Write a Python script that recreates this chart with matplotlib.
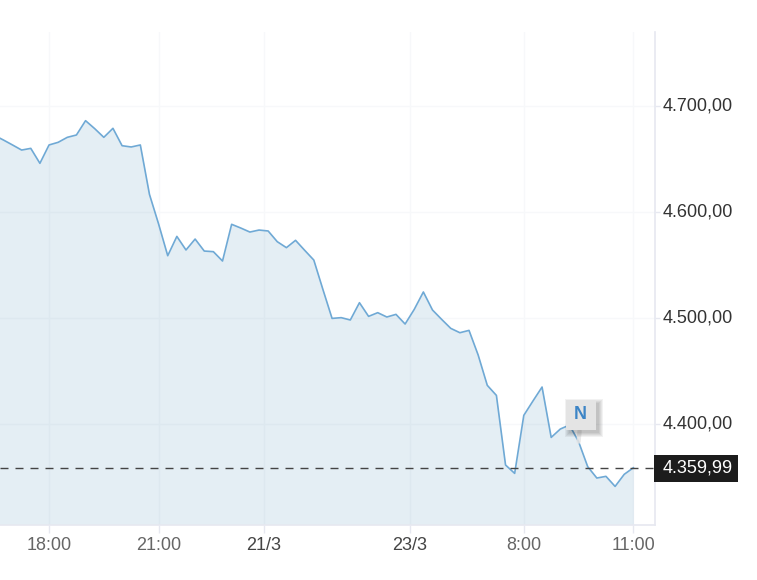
import matplotlib
matplotlib.use("Agg")
import matplotlib.pyplot as plt
import matplotlib.transforms as mtrans
from matplotlib.patches import Rectangle
from matplotlib.transforms import blended_transform_factory

WIDTH, HEIGHT = 757, 580

prices = [
    4671.9, 4667.5, 4662.8, 4658.0, 4659.6, 4645.5, 4662.8, 4665.3, 4670.0, 4672.2,
    4685.7, 4678.2, 4670.0, 4678.5, 4662.1, 4660.9, 4662.8, 4616.2, 4588.3, 4558.4,
    4576.6, 4563.8, 4574.1, 4562.8, 4562.2, 4553.4, 4588.0, 4584.5, 4580.7, 4582.6,
    4581.7, 4571.6, 4566.0, 4572.9, 4563.5, 4554.3, 4526.5, 4499.3, 4500.0, 4497.8,
    4514.1, 4501.2, 4504.7, 4500.6, 4503.1, 4494.0, 4507.8, 4524.2, 4507.2, 4498.4,
    4489.9, 4485.8, 4488.0, 4464.8, 4436.2, 4426.7, 4361.1, 4353.2, 4407.9, 4421.4,
    4434.6, 4387.1, 4395.0, 4398.8, 4383.1, 4359.5, 4348.8, 4350.4, 4340.9, 4352.3,
    4358.5,
]
x_ticks = [6, 18, 29.5, 45.5, 58, 70]
x_labels = ["18:00", "21:00", "21/3", "23/3", "8:00", "11:00"]
date_labels = ["21/3", "23/3"]
y_ticks = [4400, 4500, 4600, 4700]
y_labels = ["4.400,00", "4.500,00", "4.600,00", "4.700,00"]
last_label = "4.359,99"
news_index = 64

LINE = "#6fa9d5"
FILL = "#609bbe"
GRID = "#f7f8fa"
AXIS = "#e6e8f0"
FONT = "Liberation Sans"
FONT_SIZE = 13


def px_offset(dx, dy):
    """
    Shift a transform by a number of pixels
    """
    return mtrans.ScaledTranslation(dx / 100, dy / 100, plt.gcf().dpi_scale_trans)


def draw_flag(ax, index, value):
    """
    Draw the grey news flag with its stem above a point of the line
    """
    ax.annotate("", xy=(index, value), xytext=(1, 11), textcoords="offset pixels",
                arrowprops=dict(arrowstyle="-", lw=3.1, color="#e4e4e4",
                                alpha=0.85, shrinkA=0, shrinkB=0), zorder=5)
    size = 30 * 0.72
    for grow in [8, 6, 4, 2, 0]:
        ax.plot([index], [value], marker="s", ms=size + grow * 0.72, mew=0,
                color="black", alpha=0.05, zorder=6,
                transform=ax.transData + px_offset(5.4, 23.7))
    ax.plot([index], [value], marker="s", ms=size, mew=0, color="#e4e4e4", zorder=7,
            transform=ax.transData + px_offset(2.4, 26.7))
    ax.annotate("N", xy=(index, value), xytext=(1.5, 26.7), textcoords="offset pixels",
                ha="center", va="center", color="#3d85c6", fontsize=FONT_SIZE,
                fontweight="bold", family=FONT, zorder=8)


def visualize():
    """
    Draw the price chart with the axis on the right
    """
    fig = plt.figure(figsize=(WIDTH / 100, HEIGHT / 100), dpi=100)
    ax = fig.add_axes([0, 1 - 524.5 / HEIGHT, 655 / WIDTH, (524.5 - 32) / HEIGHT])
    x = list(range(len(prices)))

    ax.set_xlim(0.629, 72.37)
    ax.set_ylim(4305, 4769.3)
    ax.fill_between(x, prices, 4305, color=FILL, alpha=0.17, lw=0, zorder=2)
    ax.plot(x, prices, color=LINE, lw=1.2, zorder=3)
    ax.axhline(prices[-1], color="#444444", lw=1, dashes=(5.76, 5.04), zorder=4)

    ax.grid(True, color=GRID, lw=1, zorder=0)
    ax.set_axisbelow(True)
    for side in ["top", "left"]:
        ax.spines[side].set_visible(False)
    for side in ["right", "bottom"]:
        ax.spines[side].set_color(AXIS)
        ax.spines[side].set_linewidth(1.2)

    ax.yaxis.tick_right()
    ax.set_yticks(y_ticks, y_labels, family=FONT, fontsize=FONT_SIZE, color="#333333")
    ax.set_xticks(x_ticks, x_labels, family=FONT, fontsize=FONT_SIZE, color="#666666")
    ax.tick_params(axis="y", length=3.6, width=1, color=AXIS, pad=2.2)
    ax.tick_params(axis="x", length=5.8, width=1, color=AXIS, pad=3.5)
    for label in ax.get_xticklabels():
        if label.get_text() in date_labels:
            label.set_color("#444444")
    for label in ax.get_yticklabels():
        label.set_transform(label.get_transform() + px_offset(0, 1.5))

    draw_flag(ax, news_index, prices[news_index])

    trans = blended_transform_factory(ax.transAxes, ax.transData)
    ax.add_patch(Rectangle((1 - 1 / 655, prices[-1] - 13.2), 84 / 655, 25.4, transform=trans,
                           fc="#1c1c1c", ec="none", clip_on=False, zorder=9))
    ax.text(1 + 8 / 655, prices[-1], last_label, transform=trans, family=FONT,
            fontsize=FONT_SIZE, color="white", va="center", ha="left", zorder=10,
            clip_on=False)

    fig.savefig("out.png", dpi=100)


def main():
    """
    Build the chart and save it to out.png
    """
    visualize()


if __name__ == "__main__":
    main()
